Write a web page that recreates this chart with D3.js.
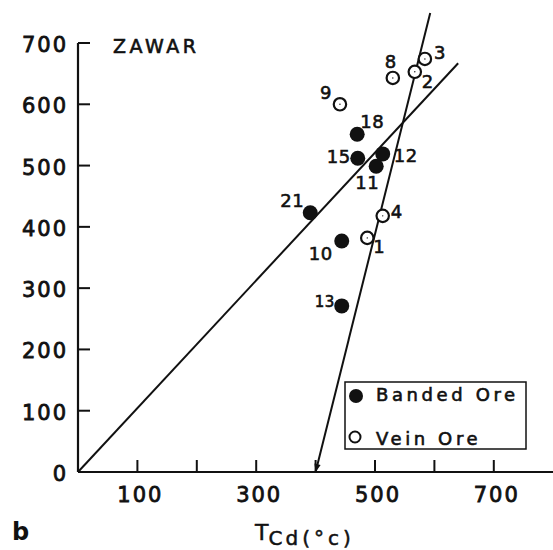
<!DOCTYPE html>
<html>
<head>
<meta charset="utf-8">
<script src="https://cdnjs.cloudflare.com/ajax/libs/d3/7.8.5/d3.min.js"></script>
<style>
  body { margin: 0; background: #fff; }
  svg text { font-family: "DejaVu Sans", sans-serif; fill: #111; }
</style>
</head>
<body>
<div class="chart"></div>
<script>
// data: [label, T_Cd, value]
var bandedOre = [
  ["18", 470, 551], ["15", 471, 512], ["12", 513, 519], ["11", 502, 499],
  ["21", 391, 423], ["10", 444, 377], ["13", 444, 271]
];
var veinOre = [
  ["3", 584, 674], ["2", 567, 653], ["8", 530, 643], ["9", 441, 600],
  ["4", 513, 418], ["1", 487, 382]
];
// fitted lines, [x,y] endpoints in data units
var lineA = [[0, 0], [640, 667]];
var lineB = [[593, 749], [400, 0]];

var xTicks = [100, 200, 300, 400, 500, 600, 700];
var xLabels = [100, 300, 500, 700];
var yTicks = [0, 100, 200, 300, 400, 500, 600, 700];

// where each point label sits relative to its marker (px)
var labelOffset = {
  "3": [15, -6], "2": [13, 10], "8": [-2, -16], "9": [-14, -12],
  "18": [15, -13], "15": [-19, -2], "12": [23, 2], "11": [-9, 16],
  "21": [-18, -12], "4": [14, -4], "1": [12, 9], "10": [-21, 13], "13": [-17, -4]
};

var W = 553, H = 550;
var svg = d3.select("div.chart").append("svg")
  .attr("width", W).attr("height", H);

var x = d3.scaleLinear().domain([0, 800]).range([78, 553.2]);
var y = d3.scaleLinear().domain([0, 700]).range([472, 43]);

var ink = "#111";

// axes lines
svg.append("line").attr("x1", x(0)).attr("x2", x(0)).attr("y1", y(700)).attr("y2", y(0))
  .attr("stroke", ink).attr("stroke-width", 2.2);
svg.append("line").attr("x1", x(0)).attr("x2", x(800)).attr("y1", y(0)).attr("y2", y(0))
  .attr("stroke", ink).attr("stroke-width", 2.2);

// ticks (inside)
svg.append("g").selectAll("line").data(yTicks.filter(d => d > 0)).enter().append("line")
  .attr("x1", x(0)).attr("x2", x(0) + 12)
  .attr("y1", d => y(d)).attr("y2", d => y(d))
  .attr("stroke", ink).attr("stroke-width", 2);
svg.append("g").selectAll("line").data(xTicks).enter().append("line")
  .attr("x1", d => x(d)).attr("x2", d => x(d))
  .attr("y1", y(0)).attr("y2", y(0) - 12)
  .attr("stroke", ink).attr("stroke-width", 2);

// tick labels
svg.append("g").selectAll("text").data(yTicks).enter().append("text")
  .attr("x", x(0) - 10).attr("y", d => y(d) + 2)
  .attr("text-anchor", "end").attr("dominant-baseline", "central")
  .style("font-size", "21px").style("letter-spacing", "2px")
  .attr("stroke", ink).attr("stroke-width", 0.8)
  .text(d => d);
svg.append("g").selectAll("text").data(xLabels).enter().append("text")
  .attr("x", d => x(d) + 3).attr("y", 502)
  .attr("text-anchor", "middle")
  .style("font-size", "21px").style("letter-spacing", "2px")
  .attr("stroke", ink).attr("stroke-width", 0.8)
  .text(d => d);

// fitted lines
var lineGen = d3.line().x(d => x(d[0])).y(d => y(d[1]));
svg.append("defs").append("marker")
  .attr("id", "arr").attr("viewBox", "0 0 10 10")
  .attr("refX", 10).attr("refY", 5)
  .attr("markerWidth", 5).attr("markerHeight", 4)
  .attr("orient", "auto")
  .append("path").attr("d", "M0,1 L10,5 L0,9 Z").attr("fill", ink);

svg.append("path").attr("d", lineGen(lineA))
  .attr("fill", "none").attr("stroke", ink).attr("stroke-width", 2);
svg.append("path").attr("d", lineGen(lineB))
  .attr("fill", "none").attr("stroke", ink).attr("stroke-width", 2)
  .attr("marker-end", "url(#arr)");

// points
svg.append("g").selectAll("circle").data(veinOre).enter().append("circle")
  .attr("cx", d => x(d[1])).attr("cy", d => y(d[2])).attr("r", 6.2)
  .attr("fill", "#fff").attr("stroke", ink).attr("stroke-width", 2.2);
svg.append("g").selectAll("circle").data(veinOre).enter().append("circle")
  .attr("cx", d => x(d[1])).attr("cy", d => y(d[2])).attr("r", 0.7)
  .attr("fill", ink);
svg.append("g").selectAll("circle").data(bandedOre).enter().append("circle")
  .attr("cx", d => x(d[1])).attr("cy", d => y(d[2])).attr("r", 7.5)
  .attr("fill", ink);

// point labels
svg.append("g").selectAll("text").data(bandedOre.concat(veinOre)).enter().append("text")
  .attr("x", d => x(d[1]) + labelOffset[d[0]][0])
  .attr("y", d => y(d[2]) + labelOffset[d[0]][1])
  .attr("text-anchor", "middle").attr("dominant-baseline", "central")
  .style("font-size", d => d[0] === "13" ? "15px" : "18px")
  .style("letter-spacing", "0.5px")
  .attr("stroke", ink).attr("stroke-width", 0.6)
  .text(d => d[0]);

// title
svg.append("text").attr("x", 113).attr("y", 53)
  .style("font-size", "19px").style("letter-spacing", "3.5px")
  .attr("stroke", ink).attr("stroke-width", 0.6)
  .text("ZAWAR");

// legend
var lg = svg.append("g");
lg.append("rect").attr("x", 345).attr("y", 382).attr("width", 181).attr("height", 67)
  .attr("fill", "#fff").attr("stroke", ink).attr("stroke-width", 1.5);
lg.append("circle").attr("cx", 356).attr("cy", 396).attr("r", 7).attr("fill", ink);
lg.append("circle").attr("cx", 355).attr("cy", 437).attr("r", 5.5)
  .attr("fill", "#fff").attr("stroke", ink).attr("stroke-width", 2);
lg.append("text").attr("x", 376).attr("y", 401)
  .style("font-size", "18px").style("letter-spacing", "3.6px")
  .attr("stroke", ink).attr("stroke-width", 0.6)
  .text("Banded  Ore");
lg.append("text").attr("x", 376).attr("y", 445)
  .style("font-size", "18px").style("letter-spacing", "3.6px")
  .attr("stroke", ink).attr("stroke-width", 0.6)
  .text("Vein  Ore");

// axis title
var xt = svg.append("text").attr("x", 255).attr("y", 540)
  .attr("stroke", ink).attr("stroke-width", 0.5);
xt.append("tspan").style("font-size", "22px").text("T");
xt.append("tspan").attr("dy", 5).style("font-size", "20px").style("letter-spacing", "3px").text("Cd");
xt.append("tspan").attr("dy", 0).attr("dx", 1).style("font-size", "20px").style("letter-spacing", "4px").text("(°c)");

// panel letter
svg.append("text").attr("x", 12).attr("y", 540)
  .style("font-size", "24px").style("font-weight", "bold")
  .text("b");
</script>
</body>
</html>
